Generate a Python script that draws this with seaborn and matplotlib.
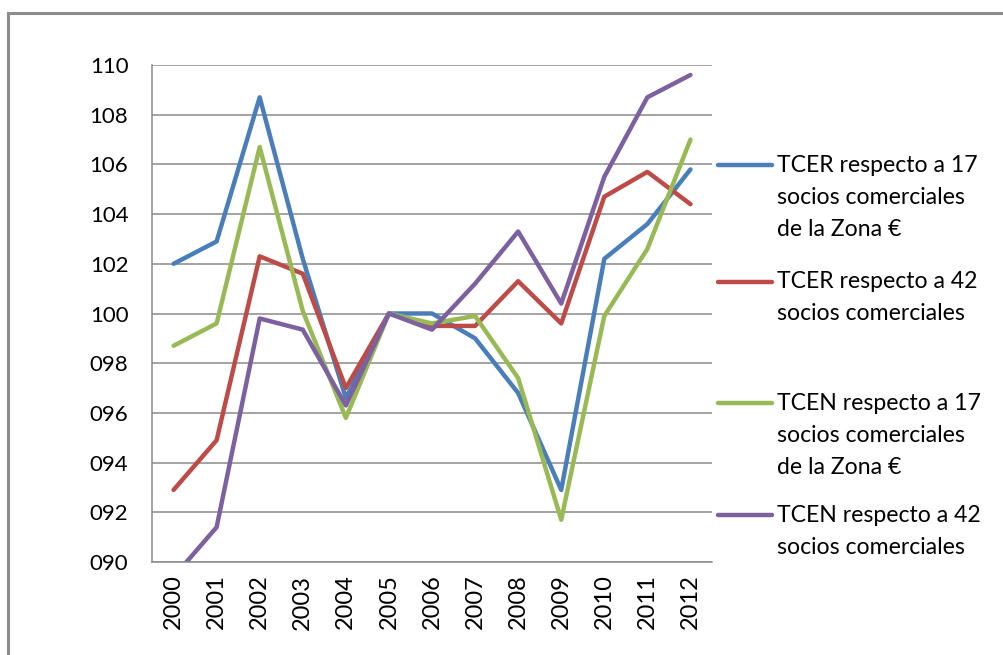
import matplotlib
matplotlib.use("Agg")
import matplotlib.pyplot as plt
from matplotlib.lines import Line2D
from matplotlib.patches import Rectangle
import seaborn as sns
import pandas as pd

years = [2000, 2001, 2002, 2003, 2004, 2005, 2006, 2007, 2008, 2009, 2010, 2011, 2012]
tcer17 = [102.0, 102.9, 108.7, 102.2, 96.6, 100.0, 100.0, 99.0, 96.8, 92.9, 102.2, 103.6, 105.8]
tcer42 = [92.9, 94.9, 102.3, 101.6, 97.0, 100.0, 99.5, 99.5, 101.3, 99.6, 104.7, 105.7, 104.4]
tcen17 = [98.7, 99.6, 106.7, 100.1, 95.8, 100.0, 99.6, 99.9, 97.4, 91.7, 99.9, 102.6, 107.0]
tcen42 = [89.4, 91.4, 99.8, 99.35, 96.3, 100.0, 99.35, 101.2, 103.3, 100.4, 105.5, 108.7, 109.6]

series_names = [
    "TCER respecto a 17 socios comerciales de la Zona €",
    "TCER respecto a 42 socios comerciales",
    "TCEN respecto a 17 socios comerciales de la Zona €",
    "TCEN respecto a 42 socios comerciales",
]
legend_lines = [
    ["TCER respecto a 17", "socios comerciales", "de la Zona €"],
    ["TCER respecto a 42", "socios comerciales"],
    ["TCEN respecto a 17", "socios comerciales", "de la Zona €"],
    ["TCEN respecto a 42", "socios comerciales"],
]
colors = ["#4A7EBB", "#BE4B48", "#98B954", "#7D60A0"]
yticks = list(range(90, 111, 2))

rows = []
for name, vals in zip(series_names, [tcer17, tcer42, tcen17, tcen42]):
    for y, v in zip(years, vals):
        rows.append({"year": y, "value": v, "series": name})
df = pd.DataFrame(rows)

sns.set_style("white")
plt.rcParams["font.family"] = ["Lato", "DejaVu Sans"]

W, H = 1004, 655
fig = plt.figure(figsize=(W / 100, H / 100), dpi=100)
ax = fig.add_axes([152 / W, 1 - 562 / H, (712 - 152) / W, (562 - 65) / H])

sns.lineplot(data=df, x="year", y="value", hue="series", hue_order=series_names,
             palette=colors, linewidth=3.2, legend=False, sort=False, ax=ax,
             solid_capstyle="round", solid_joinstyle="round")

ax.set_xlim(1999.5, 2012.5)
ax.set_ylim(90, 110)
ax.set_yticks(yticks)
ax.set_yticklabels([f"{v:03d}" for v in yticks])
ax.set_xticks(years)
ax.set_xticklabels([str(y) for y in years], rotation=90)
ax.set_xlabel("")
ax.set_ylabel("")
ax.grid(axis="y", color="#8a8a8a", linewidth=1.1)
ax.grid(axis="x", visible=False)
ax.set_axisbelow(True)
for s in ["top", "right"]:
    ax.spines[s].set_visible(False)
for s in ["left", "bottom"]:
    ax.spines[s].set_color("#8a8a8a")
    ax.spines[s].set_linewidth(1.1)
ax.tick_params(axis="y", length=0, pad=17, labelsize=16, labelcolor="#000000")
ax.tick_params(axis="x", length=0, pad=9, labelsize=17, labelcolor="#000000")

# legend (Excel style: handle aligned with first text line)
entry_y = [[165, 197, 229], [282, 314], [403, 435, 467], [515, 547]]
for col, lines, ys in zip(colors, legend_lines, entry_y):
    fig.add_artist(Line2D([718 / W, 772 / W], [1 - ys[0] / H, 1 - ys[0] / H],
                          transform=fig.transFigure, color=col, linewidth=3.2,
                          solid_capstyle="round"))
    for txt, yy in zip(lines, ys):
        fig.text(777 / W, 1 - yy / H, txt, fontsize=16.6, va="center", ha="left",
                 color="#000000")

# outer chart frame
fig.add_artist(Rectangle((8 / W, -0.2), 2.0, 1.2 - 12.5 / H, transform=fig.transFigure,
                         fill=False, edgecolor="#8c8c8c", linewidth=2.2))

fig.savefig("out.png", dpi=100)
